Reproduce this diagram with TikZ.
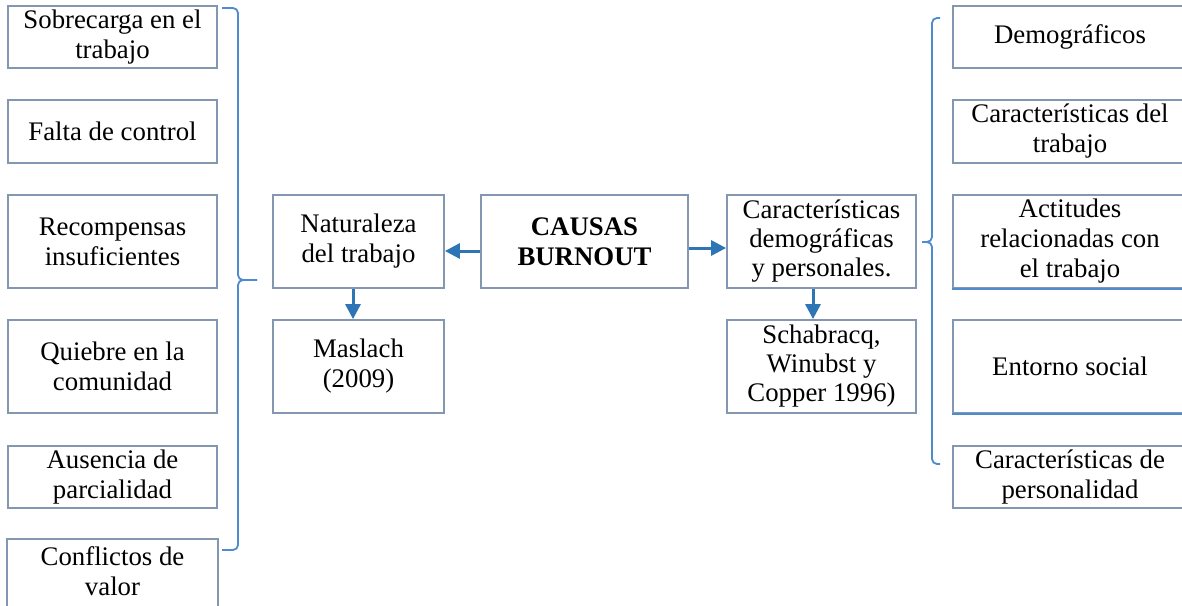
\documentclass[tikz,border=0pt]{standalone}
\usepackage{fontspec}
\setmainfont{Liberation Serif}
\usetikzlibrary{arrows.meta}
\definecolor{boxline}{RGB}{132,151,176}
\definecolor{arrowblue}{RGB}{46,117,182}
\definecolor{braceblue}{RGB}{79,139,207}
\begin{document}
\begin{tikzpicture}[x=1pt,y=-1pt,
  box/.style={draw=boxline, line width=1.8pt, fill=white, inner sep=0pt, align=center,
    font=\fontsize{26.8}{30}\selectfont},
  boxedge/.style={draw=boxline, line width=1.8pt},
  conn/.style={draw=arrowblue, line width=3pt, -{Triangle[length=15pt,width=15pt]}},
  bracestyle/.style={draw=braceblue, line width=1.8pt, rounded corners=5pt},
  blueedge/.style={draw=braceblue, line width=1.8pt}]
\useasboundingbox (0,0) rectangle (1182,605);
\clip (0,0) rectangle (1182,605);

% left column
\node[box, minimum width=209pt, minimum height=62pt] (l1) at (112.5,37) {Sobrecarga en el\\trabajo};
\node[box, minimum width=209pt, minimum height=63pt] (l2) at (112.5,131.5) {Falta de control};
\node[box, minimum width=209pt, minimum height=93pt] (l3) at (112.5,241.5) {Recompensas\\insuficientes};
\node[box, minimum width=209pt, minimum height=93pt] (l4) at (112.5,366.5) {Quiebre en la\\comunidad};
\node[box, minimum width=209pt, minimum height=62pt] (l5) at (112.5,477) {Ausencia de\\parcialidad};
\node[box, draw=none, minimum width=209pt, minimum height=62pt] (l6) at (112.5,571) {Conflictos de\\valor};
\draw[boxedge] ([yshift=-12pt]l6.south west) -- (l6.north west) -- (l6.north east) -- ([yshift=-12pt]l6.south east);

% middle
\node[box, minimum width=171pt, minimum height=93pt] (nat) at (358.5,241.5) {Naturaleza\\del trabajo};
\node[box, minimum width=171pt, minimum height=93pt] (mas) at (358.5,366.5) {Maslach\\(2009)};
\node[box, minimum width=207pt, minimum height=93pt] (cau) at (584.5,241.5) {\textbf{CAUSAS}\\\textbf{BURNOUT}};
\node[box, minimum width=189pt, minimum height=93pt, font=\fontsize{26.8}{29}\selectfont] (car) at (821.5,241.5) {Características\\demográficas\\y personales.};
\node[box, minimum width=189pt, minimum height=93pt, font=\fontsize{26.8}{29}\selectfont] (sch) at (821.5,366.5) {Schabracq,\\Winubst y\\Copper 1996)};

% right column
\node[box, minimum width=234pt, minimum height=62pt] (r1) at (1070,37) {Demográficos};
\node[box, minimum width=234pt, minimum height=63pt] (r2) at (1070,131.5) {Características del\\trabajo};
\node[box, minimum width=234pt, minimum height=93pt] (r3) at (1070,241.5) {Actitudes\\relacionadas con\\el trabajo};
\node[box, minimum width=234pt, minimum height=93pt] (r4) at (1070,366.5) {Entorno social};
\node[box, minimum width=234pt, minimum height=62pt] (r5) at (1070,477) {Características de\\personalidad};
\draw[blueedge] (r3.south west) -- (r3.south east);
\draw[blueedge] (r4.south west) -- (r4.south east);

% arrows
\draw[conn] ([yshift=-9.5pt]cau.west) -- ([yshift=-9.5pt]nat.east);
\draw[conn] ([yshift=-6.5pt]cau.east) -- ([yshift=-6.5pt]car.west);
\draw[conn] ([xshift=-5.5pt]nat.south) -- ([xshift=-5.5pt]mas.north);
\draw[conn] ([xshift=-8.5pt]car.south) -- ([xshift=-8.5pt]sch.north);

% braces
\draw[bracestyle] (222,8) -- (238,8) -- (238,280) -- (257,280);
\draw[bracestyle] (257,280) -- (238,280) -- (238,550) -- (222,550);
\draw[bracestyle] (940,18) -- (932,18) -- (932,242) -- (922,242);
\draw[bracestyle] (922,242) -- (932,242) -- (932,464) -- (940,464);
\end{tikzpicture}
\end{document}
